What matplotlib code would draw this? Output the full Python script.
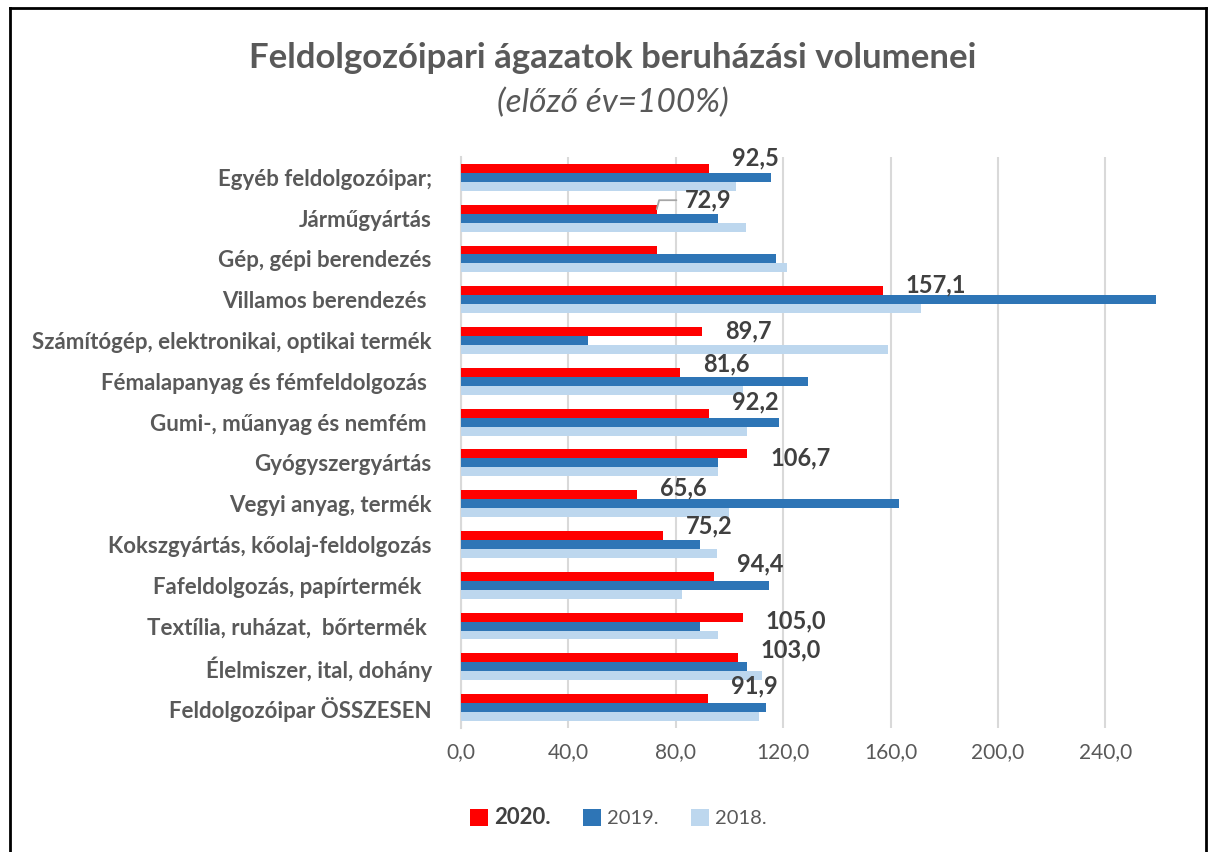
import matplotlib

matplotlib.use("Agg")
import matplotlib.pyplot as plt
import numpy as np
from matplotlib.lines import Line2D

plt.rcParams["font.family"] = ["Lato", "DejaVu Sans"]

categories = [
    "Egyéb feldolgozóipar;",
    "Járműgyártás",
    "Gép, gépi berendezés",
    "Villamos berendezés ",
    "Számítógép, elektronikai, optikai termék",
    "Fémalapanyag és fémfeldolgozás ",
    "Gumi-, műanyag és nemfém ",
    "Gyógyszergyártás",
    "Vegyi anyag, termék",
    "Kokszgyártás, kőolaj-feldolgozás",
    "Fafeldolgozás, papírtermék  ",
    "Textília, ruházat,  bőrtermék ",
    "Élelmiszer, ital, dohány",
    "Feldolgozóipar ÖSSZESEN",
]
values_2020 = [92.5, 72.9, 73.0, 157.1, 89.7, 81.6, 92.2, 106.7, 65.6, 75.2, 94.4, 105.0, 103.0, 91.9]
values_2019 = [115.4, 95.6, 117.5, 258.7, 47.3, 129.4, 118.3, 95.6, 163.1, 89.0, 114.9, 88.9, 106.6, 113.6]
values_2018 = [102.3, 106.1, 121.3, 171.5, 159.0, 105.1, 106.7, 95.6, 100.0, 95.3, 82.2, 95.7, 112.0, 110.9]
# data labels shown only for 2020 (none for "Gép, gépi berendezés")
labels_2020 = ["92,5", "72,9", None, "157,1", "89,7", "81,6", "92,2", "106,7", "65,6", "75,2", "94,4", "105,0", "103,0", "91,9"]
# label shift in screen pixels, positive = up
label_dy = [10, 9, 0, 6, 1, 8, 11, -4, 7, 10, 12, -4, 8, 13]

RED = "#FF0000"
BLUE = "#2E75B6"
LIGHT = "#BDD7EE"
TEXT = "#595959"

fig = plt.figure(figsize=(12.09, 8.52), dpi=100)
ax = fig.add_axes([461 / 1209, 1 - 728 / 852, (1159 - 461) / 1209, (728 - 157) / 852])

y = np.arange(len(categories))
h = 0.22
ax.barh(y - h, values_2020, height=h, color=RED, label="2020.", zorder=3)
ax.barh(y, values_2019, height=h, color=BLUE, label="2019.", zorder=3)
ax.barh(y + h, values_2018, height=h, color=LIGHT, label="2018.", zorder=3)

for i, (val, lab) in enumerate(zip(values_2020, labels_2020)):
    if lab is None:
        continue
    if i == 1:
        ax.annotate(lab, xy=(val, y[i] - h), xytext=(28, label_dy[i]), textcoords="offset pixels",
                    ha="left", va="center", fontsize=17, fontweight="bold", color="#404040", zorder=5,
                    arrowprops=dict(arrowstyle="-", color="#A6A6A6", lw=1.3,
                                    connectionstyle="angle,angleA=0,angleB=75,rad=0",
                                    shrinkA=4, shrinkB=0))
    else:
        ax.annotate(lab, xy=(val, y[i] - h), xytext=(23, label_dy[i]), textcoords="offset pixels",
                    ha="left", va="center", fontsize=17, fontweight="bold", color="#404040", zorder=5)

ax.set_xlim(0, 260)
ax.set_ylim(len(categories) - 0.5, -0.5)
ax.set_xticks(np.arange(0, 241, 40))
ax.set_xticklabels([f"{t:.1f}".replace(".", ",") for t in np.arange(0, 241, 40)], fontsize=15, color=TEXT)
ax.set_yticks(y)
ax.set_yticklabels(categories, fontsize=16, fontweight="bold", color=TEXT)
ax.tick_params(axis="y", length=0, pad=21)
ax.tick_params(axis="x", length=0, pad=10)
ax.grid(axis="x", color="#D9D9D9", lw=1.5, zorder=0)
for side in ["top", "right", "bottom"]:
    ax.spines[side].set_visible(False)
ax.spines["left"].set_color("#D9D9D9")
ax.spines["left"].set_linewidth(1.5)

fig.text(613 / 1209, 1 - 58 / 852, "Feldolgozóipari ágazatok beruházási volumenei",
         ha="center", va="center", fontsize=25, fontweight="bold", color=TEXT)
fig.text(613 / 1209, 1 - 103 / 852, "(előző év=100%)",
         ha="center", va="center", fontsize=24, fontstyle="italic", color=TEXT)

leg = fig.legend(loc="center", bbox_to_anchor=(618 / 1209, 1 - 818 / 852), ncol=3, frameon=False,
                 fontsize=14.5, handlelength=0.9, handleheight=0.9, handletextpad=0.3, columnspacing=1.6)
for txt in leg.get_texts():
    txt.set_color(TEXT)
leg.get_texts()[0].set_fontweight("bold")
leg.get_texts()[0].set_fontsize(16)
leg.get_texts()[0].set_color("#404040")

# outer frame
fig.add_artist(Line2D([10 / 1209, 10 / 1209], [0, 1 - 8 / 852], transform=fig.transFigure, color="black", lw=2))
fig.add_artist(Line2D([10 / 1209, 1206 / 1209], [1 - 8 / 852, 1 - 8 / 852], transform=fig.transFigure, color="black", lw=2))
fig.add_artist(Line2D([1206 / 1209, 1206 / 1209], [0, 1 - 8 / 852], transform=fig.transFigure, color="black", lw=2))

fig.savefig("out.png", dpi=100)
